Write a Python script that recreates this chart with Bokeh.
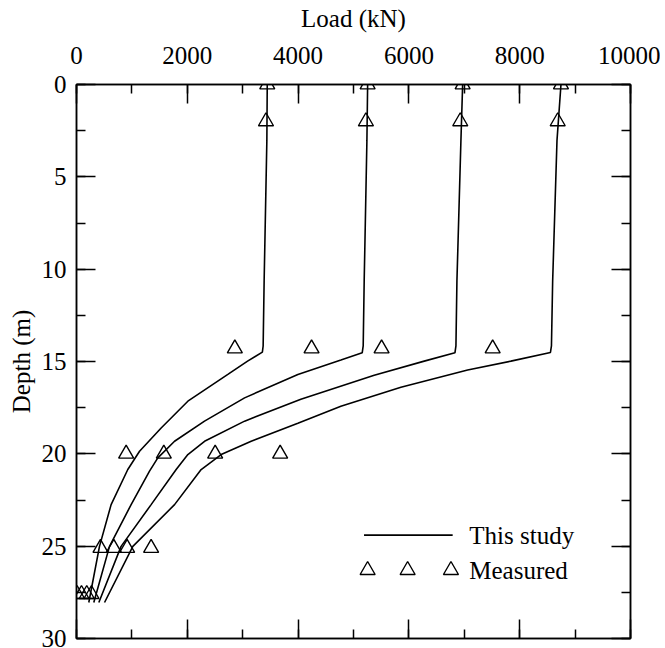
from bokeh.plotting import figure
from bokeh.models import Range1d, LinearAxis, SingleIntervalTicker, Label
from bokeh.embed import file_html
from bokeh.resources import INLINE

FONT = "Liberation Serif"
FS = "25px"

# ---------------- data ----------------
measured_depth = [0, 2, 14.3, 20.0, 25.1, 27.6]
measured_load_1 = [3443, 3420, 2858, 896, 433, 10]
measured_load_2 = [5255, 5224, 4243, 1576, 674, 90]
measured_load_3 = [6970, 6927, 5507, 2503, 914, 185]
measured_load_4 = [8745, 8686, 7512, 3676, 1347, 270]

study1_depth = [0, 3.04, 10.63, 14.16, 14.49, 14.98, 15.70, 17.15, 18.60, 19.86, 20.85, 22.75, 25.01, 28.05]
study1_load = [3443, 3436, 3387, 3369, 3355, 3088, 2732, 2010, 1528, 1138, 926, 625, 415, 222]

study2_depth = [0, 3.04, 10.63, 14.16, 14.53, 14.92, 15.70, 16.97, 18.23, 19.32, 20.22, 20.94, 22.75, 25.01, 28.05]
study2_load = [5255, 5242, 5193, 5175, 5157, 4773, 3996, 3034, 2311, 1770, 1468, 1318, 986, 596, 312]

study3_depth = [0, 3.04, 10.63, 14.16, 14.53, 14.98, 15.74, 17.04, 18.23, 19.32, 20.04, 20.85, 22.75, 25.01, 28.05]
study3_load = [6970, 6939, 6867, 6849, 6831, 6277, 5374, 4050, 3034, 2311, 2010, 1799, 1347, 805, 403]

study4_depth = [0, 3.04, 10.63, 14.16, 14.51, 14.98, 15.46, 16.39, 17.42, 18.34, 19.32, 20.04, 20.85, 22.75, 25.01, 28.05]
study4_load = [8745, 8673, 8595, 8573, 8555, 7842, 7060, 5856, 4772, 3996, 3153, 2611, 2250, 1770, 1017, 506]

x_label = "Load (kN)"
y_label = "Depth (m)"
legend_labels = ["This study", "Measured"]

# ---------------- figure ----------------
p = figure(width=660, height=648,
           x_range=Range1d(0, 10000), y_range=Range1d(30, 0),
           x_axis_location="above",
           output_backend="svg", toolbar_location=None,
           min_border_left=76, min_border_top=84,
           min_border_right=30, min_border_bottom=10)
p.xgrid.visible = False
p.ygrid.visible = False
p.outline_line_color = "black"
p.outline_line_width = 1.5
p.background_fill_color = "white"
p.border_fill_color = "white"

top = p.xaxis[0]
left = p.yaxis[0]
top.ticker = SingleIntervalTicker(interval=2000, num_minor_ticks=2)
left.ticker = SingleIntervalTicker(interval=5, num_minor_ticks=2)
top.axis_label = x_label
left.axis_label = y_label

bottom = LinearAxis(ticker=SingleIntervalTicker(interval=2000, num_minor_ticks=2))
right = LinearAxis(ticker=SingleIntervalTicker(interval=5, num_minor_ticks=2))
p.add_layout(bottom, "below")
p.add_layout(right, "right")

for ax in (top, left, bottom, right):
    ax.axis_line_width = 1.5
    ax.axis_line_color = "black"
    ax.major_tick_in = 19
    ax.major_tick_out = 0
    ax.minor_tick_in = 9
    ax.minor_tick_out = 0
    ax.major_tick_line_width = 1.5
    ax.minor_tick_line_width = 1.5
    ax.major_tick_line_color = "black"
    ax.minor_tick_line_color = "black"
    ax.major_label_text_font = FONT
    ax.major_label_text_font_size = FS
    ax.major_label_text_color = "black"
    ax.axis_label_text_font = FONT
    ax.axis_label_text_font_size = FS
    ax.axis_label_text_font_style = "normal"
    ax.axis_label_text_color = "black"

for ax in (bottom, right):
    ax.major_label_text_font_size = "0px"
    ax.major_label_text_color = None
    ax.major_label_standoff = 0

top.major_label_standoff = 21
top.axis_label_standoff = 12
left.major_label_standoff = 10
left.axis_label_standoff = 4

# ---------------- curves ----------------
for d, l in ((study1_depth, study1_load), (study2_depth, study2_load),
             (study3_depth, study3_load), (study4_depth, study4_load)):
    p.line(l, d, line_color="black", line_width=1.6)

for l in (measured_load_1, measured_load_2, measured_load_3, measured_load_4):
    p.scatter(l, measured_depth, marker="triangle", size=15,
              line_color="black", line_width=1.4, fill_color=None)

# ---------------- legend ----------------
leg_x0, leg_x1 = 5190, 6790
leg_y_line, leg_y_tri = 24.4, 26.3
leg_text_x = 7090
p.line([leg_x0, leg_x1], [leg_y_line, leg_y_line], line_color="black", line_width=1.6)
p.scatter([5255, 5977, 6759], [leg_y_tri] * 3, marker="triangle", size=15,
          line_color="black", line_width=1.4, fill_color=None)
for lab, yy in zip(legend_labels, (leg_y_line, leg_y_tri)):
    p.add_layout(Label(x=leg_text_x, y=yy, text=lab, text_font=FONT,
                       text_font_size=FS, text_baseline="middle",
                       text_align="left", text_color="black"))

open("out.html", "w").write(file_html(p, INLINE))
